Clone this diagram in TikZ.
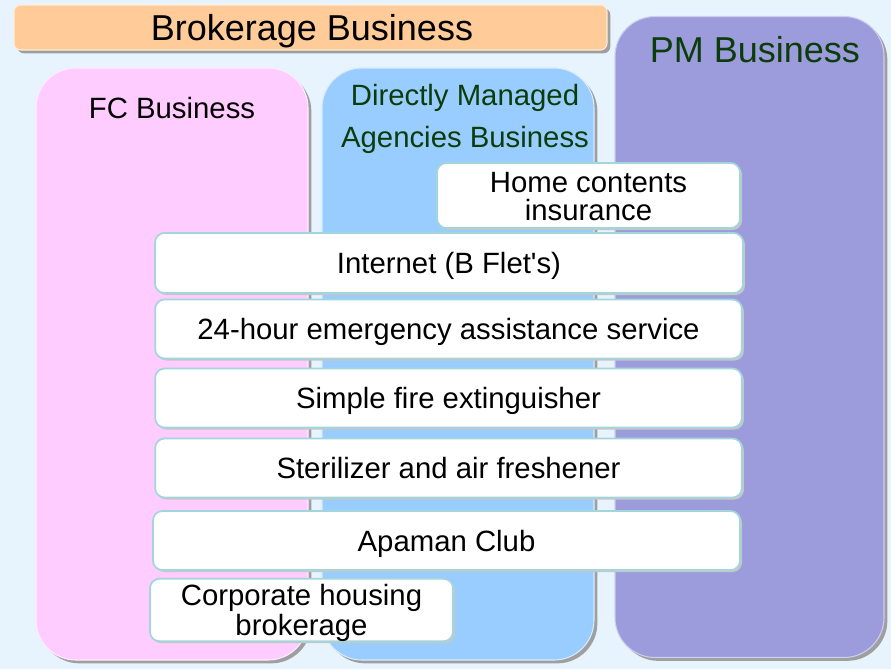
\documentclass[tikz,border=0pt]{standalone}
\usepackage{fontspec}
\setmainfont{Liberation Sans}[Ligatures=TeXOff]
\usetikzlibrary{positioning}

\definecolor{bgblue}{HTML}{E7F4FE}
\definecolor{brokorange}{HTML}{FFCC99}
\definecolor{fcpink}{HTML}{FFCCFF}
\definecolor{dmblue}{HTML}{99CCFF}
\definecolor{pmviolet}{HTML}{9C9CDC}
\definecolor{itemline}{HTML}{A3D6DA}
\definecolor{titlegreen}{HTML}{0B3D0B}

\begin{document}
\begin{tikzpicture}[x=0.75pt,y=-0.75pt,
  region/.style={line width=0.8pt, rounded corners=30pt, inner sep=0pt,
    preaction={fill=gray!75, transform canvas={xshift=2.5pt,yshift=-2.5pt}}},
  item/.style={draw=itemline, line width=1.3pt, fill=white, rounded corners=7pt,
    inner sep=0pt, align=center, font=\fontsize{22}{21}\selectfont,
    text height=20pt, text depth=4.25pt,
    preaction={fill=gray!45, transform canvas={xshift=1.5pt,yshift=-1.5pt}}},
  bigtitle/.style={font=\fontsize{27}{30}\selectfont, inner sep=0pt,
    text height=24pt, text depth=4.7pt},
  title/.style={font=\fontsize{22}{31.5}\selectfont, align=center, inner sep=0pt,
    text height=20pt, text depth=4.25pt}]

% background
\fill[bgblue] (0,0) rectangle (891,669);
\useasboundingbox (0,0) rectangle (891,669);

% business areas
\node[region, fill=pmviolet, draw=pmviolet!50!white, minimum width=201.75pt, minimum height=480.75pt] (pm) at (749.5,337) {};
\node[region, rounded corners=5pt, fill=brokorange, draw=brokorange!40!white, minimum width=444.75pt, minimum height=33.75pt] (brok) at (310.5,27.5) {};
\node[region, fill=fcpink, draw=fcpink!40!white, minimum width=204pt, minimum height=444pt] (fc) at (172,364) {};
\node[region, fill=dmblue, draw=dmblue!40!white, minimum width=204pt, minimum height=444pt] (dm) at (458,364) {};

% area titles (two lines: height counted from the last baseline)
\node[bigtitle] (brokt) at (312,27.5) {Brokerage Business};
\node[bigtitle, text=titlegreen] (pmt) at (755,50) {PM Business};
\node[title] (fct) at (172,108) {FC Business};
\node[title, text=titlegreen, text height=51.5pt] (dmt) at (465,116) {Directly Managed\\Agencies Business};

% services
\node[item, text height=41pt, minimum width=227.25pt, minimum height=48.75pt] (home) at (588.5,195.5) {Home contents\\insurance};
\node[item, minimum width=441pt, minimum height=45pt] (net) at (449,263) {Internet (B Flet's)};
\foreach \y/\txt [count=\i] in {329/{24-hour emergency assistance service},
                                398/{Simple fire extinguisher},
                                468/{Sterilizer and air freshener}}
  \node[item, minimum width=440pt, minimum height=44.25pt] (strip\i) at (448.5,\y) {\txt};
\node[item, minimum width=440.25pt, minimum height=44.25pt] (club) at (446.5,540.5) {Apaman Club};
\node[item, font=\fontsize{22}{22.5}\selectfont, text height=42.5pt, minimum width=227.25pt, minimum height=45pt] (corp) at (301.5,610) {Corporate housing\\brokerage};

\end{tikzpicture}
\end{document}
